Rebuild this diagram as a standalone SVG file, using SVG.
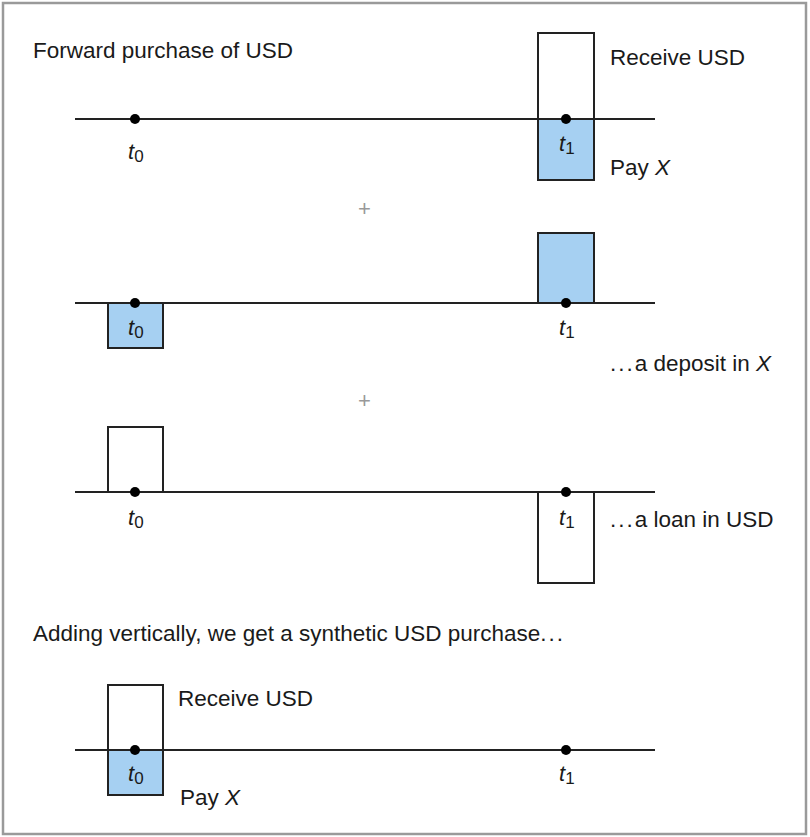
<svg xmlns="http://www.w3.org/2000/svg" width="810" height="837" viewBox="0 0 810 837">
<style>
text{font-family:"Liberation Sans",Arial,sans-serif;font-size:22.5px;fill:#1a1a1a}
.t{font-style:italic;font-size:22px}
.s{font-style:normal;font-size:17px}
.ax{stroke:#222;stroke-width:2;fill:none}
.bw{fill:#fff;stroke:#222;stroke-width:2}
.bb{fill:#a6d0f2;stroke:#222;stroke-width:2}
.plus{fill:#999;font-size:22px}
.el{letter-spacing:2px}
</style>
<rect x="0" y="0" width="810" height="837" fill="#fff"/>
<rect x="3" y="3" width="803" height="831" fill="#fff" stroke="#9a9a9a" stroke-width="2.5"/>

<g id="row1">
<text x="33" y="58">Forward purchase of USD</text>
<rect class="bw" x="538" y="33" width="56" height="86"/>
<rect class="bb" x="538" y="119" width="56" height="61"/>
<line class="ax" x1="75" y1="119" x2="655" y2="119"/>
<circle cx="135" cy="119" r="5" fill="#000"/>
<circle cx="566" cy="119" r="5" fill="#000"/>
<text class="t" x="128" y="159">t<tspan class="s" dy="3">0</tspan></text>
<text class="t" x="559" y="151">t<tspan class="s" dy="3">1</tspan></text>
<text x="610" y="65">Receive USD</text>
<text x="610" y="175">Pay <tspan font-style="italic">X</tspan></text>
</g>

<text class="plus" x="358" y="216">+</text>

<g id="row2">
<rect class="bb" x="108" y="303" width="55" height="45"/>
<rect class="bb" x="538" y="233" width="56" height="70"/>
<line class="ax" x1="75" y1="303" x2="655" y2="303"/>
<circle cx="135" cy="303" r="5" fill="#000"/>
<circle cx="566" cy="303" r="5" fill="#000"/>
<text class="t" x="128" y="335">t<tspan class="s" dy="3">0</tspan></text>
<text class="t" x="559" y="335">t<tspan class="s" dy="3">1</tspan></text>
<text x="610" y="371"><tspan class="el">...</tspan>a deposit in <tspan font-style="italic">X</tspan></text>
</g>

<text class="plus" x="358" y="408">+</text>

<g id="row3">
<rect class="bw" x="108" y="427" width="55" height="65"/>
<rect class="bw" x="538" y="492" width="56" height="91"/>
<line class="ax" x1="75" y1="492" x2="655" y2="492"/>
<circle cx="135" cy="492" r="5" fill="#000"/>
<circle cx="566" cy="492" r="5" fill="#000"/>
<text class="t" x="128" y="525">t<tspan class="s" dy="3">0</tspan></text>
<text class="t" x="559" y="525">t<tspan class="s" dy="3">1</tspan></text>
<text x="610" y="527"><tspan class="el">...</tspan>a loan in USD</text>
</g>

<g id="row4">
<text x="33" y="641">Adding vertically, we get a synthetic USD purchase<tspan class="el">...</tspan></text>
<rect class="bw" x="108" y="685" width="55" height="65"/>
<rect class="bb" x="108" y="750" width="55" height="45"/>
<line class="ax" x1="75" y1="750" x2="655" y2="750"/>
<circle cx="135" cy="750" r="5" fill="#000"/>
<circle cx="566" cy="750" r="5" fill="#000"/>
<text class="t" x="128" y="781">t<tspan class="s" dy="3">0</tspan></text>
<text class="t" x="559" y="781">t<tspan class="s" dy="3">1</tspan></text>
<text x="178" y="706">Receive USD</text>
<text x="180" y="805">Pay <tspan font-style="italic">X</tspan></text>
</g>
</svg>
